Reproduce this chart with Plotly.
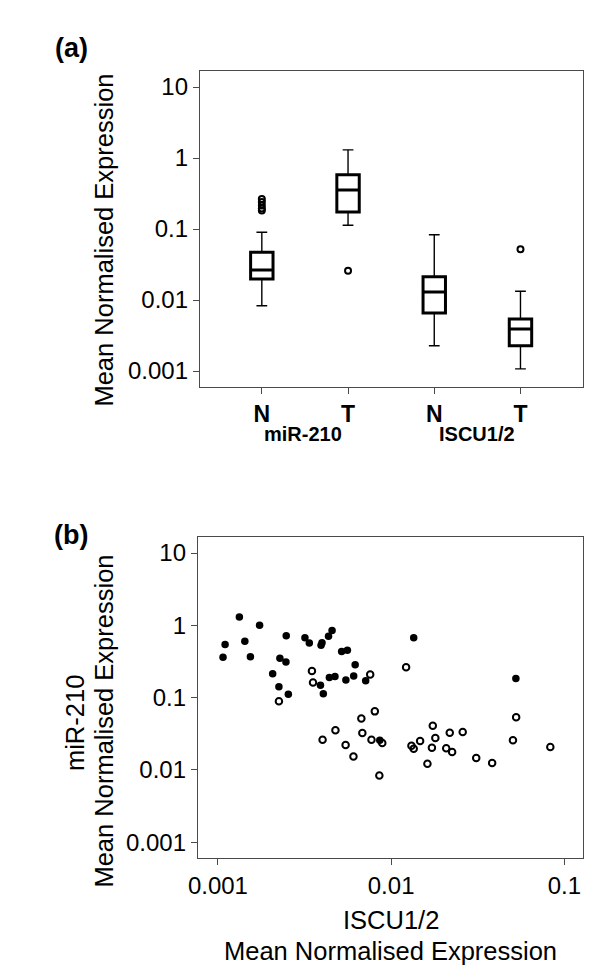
import plotly.graph_objects as go

# (a) box plot summary
box_pos = [1, 2, 3, 4]
box_labels = ["N", "T", "N", "T"]
low_fence = [0.0083, 0.113, 0.00227, 0.00107]
q1 = [0.0198, 0.173, 0.00656, 0.00227]
median = [0.0265, 0.354, 0.013, 0.0039]
q3 = [0.047, 0.58, 0.0213, 0.0054]
up_fence = [0.090, 1.30, 0.083, 0.0133]
outlier_pos = [1, 1, 1, 1, 1, 2, 4]
outlier_val = [0.265, 0.24, 0.215, 0.195, 0.182, 0.0259, 0.052]

# (b) scatter: tumour (filled) and normal (open)
iscu_t = [0.00107, 0.0011, 0.00133, 0.00143, 0.00154, 0.00174, 0.00207, 0.00225,
          0.00228, 0.00247, 0.00248, 0.00255, 0.00318, 0.00337, 0.00394, 0.00399,
          0.00435, 0.00456, 0.00391, 0.00406, 0.0044, 0.00474, 0.00518, 0.00559,
          0.00548, 0.00608, 0.0062, 0.00713, 0.0135, 0.0525, 0.0086]
mir_t = [0.361, 0.543, 1.30, 0.601, 0.367, 1.0, 0.214, 0.142,
         0.351, 0.311, 0.718, 0.111, 0.674, 0.569, 0.529, 0.574,
         0.707, 0.848, 0.148, 0.113, 0.19, 0.196, 0.434, 0.453,
         0.175, 0.2, 0.285, 0.171, 0.674, 0.184, 0.0257]
iscu_n = [0.00225, 0.00349, 0.00354, 0.00757, 0.0122, 0.00805, 0.00673, 0.0527,
          0.00477, 0.00682, 0.00402, 0.00546, 0.00606, 0.0077, 0.00889, 0.00855,
          0.0174, 0.018, 0.0147, 0.0131, 0.0135, 0.0172, 0.0218, 0.0259,
          0.0208, 0.0225, 0.0162, 0.031, 0.0383, 0.0505, 0.083]
mir_n = [0.0889, 0.233, 0.162, 0.209, 0.263, 0.0646, 0.0514, 0.0534,
         0.0353, 0.0324, 0.0262, 0.0221, 0.0154, 0.0262, 0.0236, 0.0084,
         0.0409, 0.0276, 0.0251, 0.0216, 0.0197, 0.0203, 0.0327, 0.0334,
         0.0199, 0.0177, 0.0122, 0.0146, 0.0125, 0.0257, 0.0208]

log_vals = [0.001, 0.01, 0.1, 1, 10]
log_text = ["0.001", "0.01", "0.1", "1", "10"]

W, H = 600, 978
FONT = "Arial, Liberation Sans, sans-serif"
AX = "#4a4a4a"


def px(x):
    return x / W


def py(y):
    return 1 - y / H


fig = go.Figure()

# thin whiskers first, thick boxes on top
fig.add_trace(go.Box(x=box_pos, q1=q1, median=median, q3=q3,
                     lowerfence=low_fence, upperfence=up_fence,
                     width=0.26, whiskerwidth=0.48, boxpoints=False,
                     line=dict(color="black", width=1.4), fillcolor="white",
                     xaxis="x", yaxis="y"))
fig.add_trace(go.Box(x=box_pos, q1=q1, median=median, q3=q3,
                     lowerfence=q1, upperfence=q3,
                     width=0.26, whiskerwidth=0, boxpoints=False,
                     line=dict(color="black", width=3), fillcolor="white",
                     xaxis="x", yaxis="y"))
fig.add_trace(go.Scatter(x=outlier_pos, y=outlier_val, mode="markers",
                         marker=dict(symbol="circle-open", size=6, color="black",
                                     line=dict(width=2)),
                         xaxis="x", yaxis="y"))

fig.add_trace(go.Scatter(x=iscu_n, y=mir_n, mode="markers",
                         marker=dict(symbol="circle-open", size=6.5, color="black",
                                     line=dict(width=2)),
                         xaxis="x2", yaxis="y2"))
fig.add_trace(go.Scatter(x=iscu_t, y=mir_t, mode="markers",
                         marker=dict(symbol="circle", size=7.5, color="black"),
                         xaxis="x2", yaxis="y2"))

axis_style = dict(showline=True, mirror=True, linecolor=AX, linewidth=1.2,
                  ticks="outside", ticklen=6, tickcolor=AX, tickwidth=1.2,
                  showgrid=False, zeroline=False)

fig.update_layout(
    width=W, height=H,
    margin=dict(l=0, r=0, t=0, b=0),
    paper_bgcolor="white", plot_bgcolor="white",
    showlegend=False, boxmode="overlay",
    font=dict(family=FONT, color="black"),
    xaxis=dict(domain=[px(185), px(574.3)], range=[0.282, 4.722],
               tickvals=box_pos, ticktext=box_labels,
               tickfont=dict(size=23, weight="bold"), anchor="y", **axis_style),
    yaxis=dict(domain=[py(379), py(63)], type="log", range=[-3.2254, 1.2254],
               tickvals=log_vals, ticktext=log_text,
               tickfont=dict(size=24), anchor="x", **axis_style),
    xaxis2=dict(domain=[px(183), px(574.3)], type="log", range=[-3.1153, -0.8938],
                tickvals=log_vals[:3], ticktext=log_text[:3],
                tickfont=dict(size=24), anchor="y2", **axis_style),
    yaxis2=dict(domain=[py(850), py(529)], type="log", range=[-3.2172, 1.2213],
                tickvals=log_vals, ticktext=log_text,
                tickfont=dict(size=24), anchor="x2", **axis_style),
)

notes = [
    ("<b>(a)</b>", 54, 40, 27, 0),
    ("<b>(b)</b>", 54, 527, 27, 0),
    ("Mean Normalised Expression", 87, 232, 25.5, -90),
    ("<b>miR-210</b>", 290, 426, 20, 0),
    ("<b>ISCU1/2</b>", 467, 426, 20, 0),
    ("miR-210", 58, 715, 25.5, -90),
    ("Mean Normalised Expression", 87, 713, 25.5, -90),
    ("ISCU1/2", 379, 912, 25.5, 0),
    ("Mean Normalised Expression", 379, 943, 25.5, 0),
]
for text, x, y, size, angle in notes:
    fig.add_annotation(text=text, x=px(x), y=py(y), xref="paper", yref="paper",
                       xanchor="center", yanchor="middle", showarrow=False,
                       textangle=angle, font=dict(size=size, family=FONT))

fig.write_html("out.html")
